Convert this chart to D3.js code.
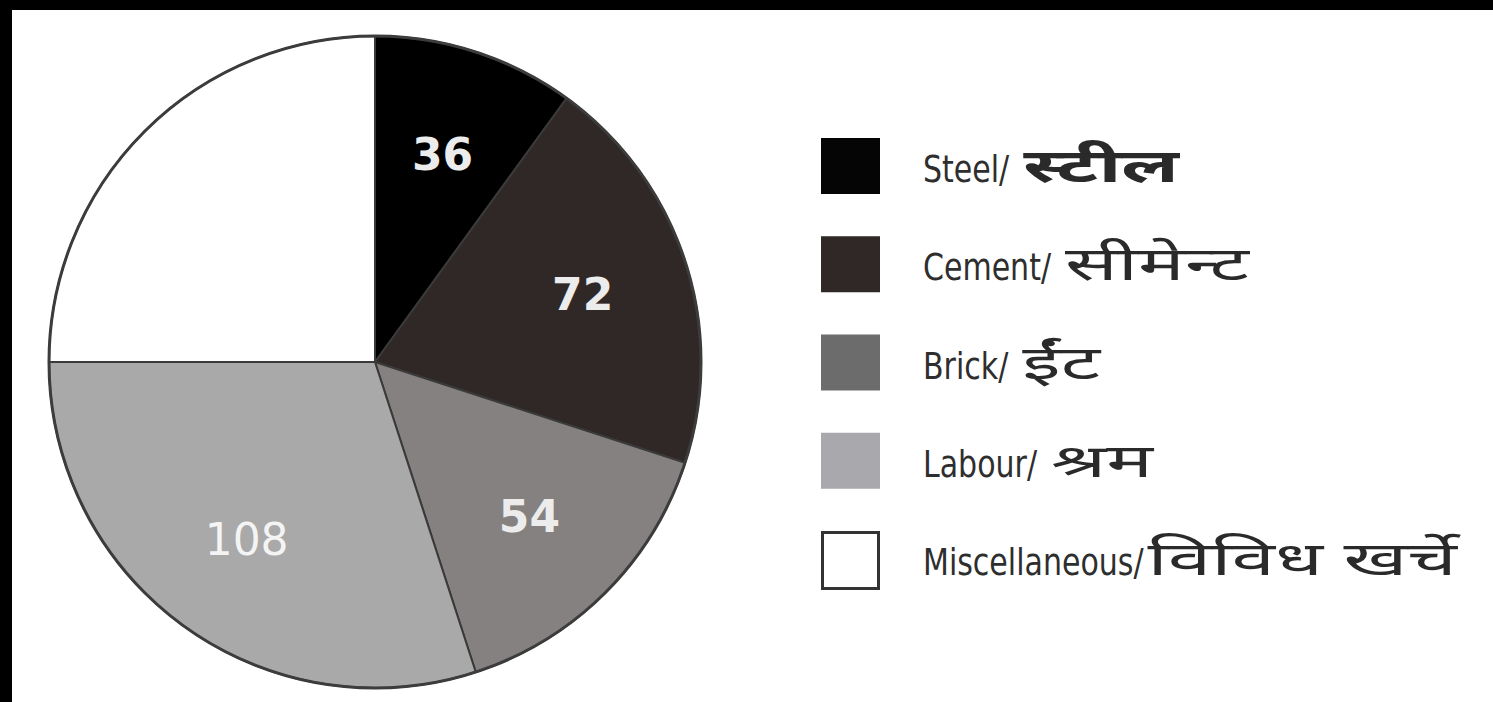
<!DOCTYPE html>
<html>
<head>
<meta charset="utf-8">
<script src="https://cdn.jsdelivr.net/npm/d3@7/dist/d3.min.js"></script>
<style>
html,body{margin:0;padding:0;background:#fff;}
svg{display:block;}
</style>
</head>
<body>
<svg id="chart" width="1493" height="702"></svg>
<script>
const categories = ["Steel", "Cement", "Brick", "Labour", "Miscellaneous"];
const legendEnglish = ["Steel/", "Cement/", "Brick/", "Labour/", "Miscellaneous/"];
const legendHindi = ["स्टील", "सीमेन्ट", "ईंट", "श्रम", "विविध खर्चे"];
const values = [36, 72, 54, 108, 90];
const showLabel = [true, true, true, true, false];
const sliceColors = ["#000000", "#2f2827", "#858181", "#a9a9a9", "#ffffff"];
const legendColors = ["#050505", "#2f2827", "#6c6c6c", "#a8a8ad", "#ffffff"];

const svg = d3.select("#chart");
const W = 1493, H = 702;

// frame
svg.append("rect").attr("x", 0).attr("y", 0).attr("width", W).attr("height", H).attr("fill", "#fff");
svg.append("rect").attr("x", 0).attr("y", 0).attr("width", W).attr("height", 10).attr("fill", "#000");
svg.append("rect").attr("x", 0).attr("y", 0).attr("width", 12).attr("height", H).attr("fill", "#000");

const cx = 375, cy = 362, R = 326;
const data = categories.map((c, i) => ({cat: c, value: values[i], i}));
const pie = d3.pie().sort(null).value(d => d.value);
const arc = d3.arc().innerRadius(0).outerRadius(R);
const labelArc = d3.arc().innerRadius(R * 0.67).outerRadius(R * 0.67);
const arcs = pie(data);

const g = svg.append("g").attr("transform", `translate(${cx},${cy})`);
g.selectAll("path.slice").data(arcs).join("path")
  .attr("class", "slice")
  .attr("d", arc)
  .attr("fill", d => sliceColors[d.data.i])
  .attr("stroke", "#3a3a3a")
  .attr("stroke-width", 2)
  .attr("stroke-linejoin", "round");
g.append("circle").attr("r", R).attr("fill", "none")
  .attr("stroke", "#3c3c3c").attr("stroke-width", 3);

g.selectAll("text.val").data(arcs.filter(d => showLabel[d.data.i])).join("text")
  .attr("class", "val")
  .attr("transform", d => `translate(${labelArc.centroid(d)})`)
  .attr("text-anchor", "middle")
  .attr("dy", "0.36em")
  .attr("fill", d => d.data.i === 3 ? "#f4f4f4" : "#ececec")
  .attr("font-family", "'DejaVu Sans', Verdana, sans-serif")
  .attr("font-weight", d => d.data.i === 3 ? "normal" : "bold")
  .attr("font-size", 44)
  .text(d => d.data.value);

// legend
const ly = d3.scalePoint().domain(categories).range([138, 531]);
const leg = svg.append("g");
const items = leg.selectAll("g.item").data(data).join("g")
  .attr("class", "item")
  .attr("transform", d => `translate(821,${ly(d.cat)})`);
items.append("rect")
  .attr("x", d => d.i === 4 ? 1.5 : 0)
  .attr("y", d => d.i === 4 ? 1.5 : 0)
  .attr("width", d => d.i === 4 ? 56 : 59)
  .attr("height", 56)
  .attr("fill", d => legendColors[d.i])
  .attr("stroke", d => d.i === 4 ? "#333" : "none")
  .attr("stroke-width", 3);
const sx = 0.79;
items.each(function(d) {
  const it = d3.select(this);
  const eg = it.append("g").attr("transform", `translate(102,44) scale(${sx},1)`);
  const et = eg.append("text")
    .attr("fill", "#2e2e2e")
    .attr("font-family", "'DejaVu Sans', Verdana, sans-serif")
    .attr("font-size", 38)
    .text(legendEnglish[d.i]);
  const w = et.node().getComputedTextLength() * sx;
  const gap = d.i === 4 ? 4 : 14;
  it.append("g").attr("transform", `translate(${102 + w + gap},44) scale(1.7,1)`)
    .append("text")
    .attr("fill", "#2a2a2a")
    .attr("font-family", "'Noto Sans', sans-serif")
    .attr("font-weight", d.i === 0 ? "bold" : "normal")
    .attr("font-size", 46)
    .text(legendHindi[d.i]);
});
</script>
</body>
</html>
